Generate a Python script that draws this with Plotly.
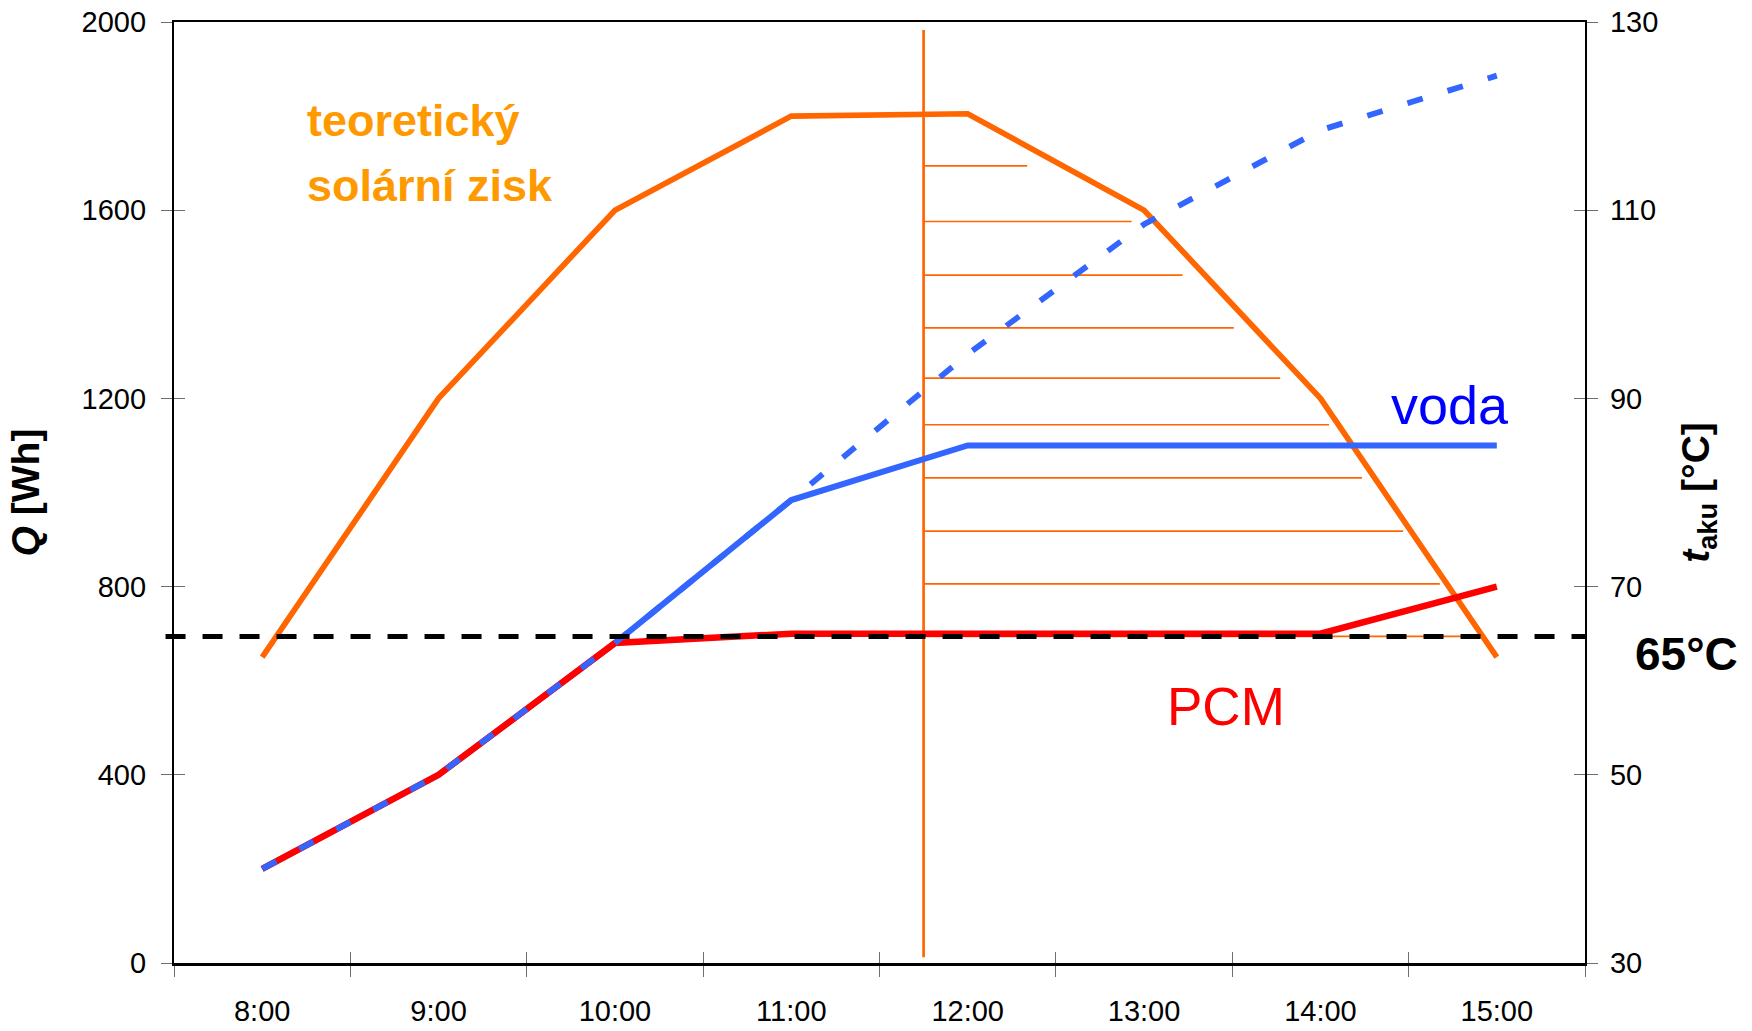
import plotly.graph_objects as go

# ---------------- data ----------------
hours = ["8:00", "9:00", "10:00", "11:00", "12:00", "13:00", "14:00", "15:00"]
solar_gain_Wh = [650, 1200, 1600, 1800, 1805, 1600, 1200, 650]        # teoretický solární zisk (left axis)
voda_t = [40, 50, 64, 79.2, 85, 85, 85, 85]                          # voda, measured (right axis)
voda_t_unlimited = [40, 50, 64, 79.2, 94.7, 108.5, 118.5, 124.3]      # voda, dashed continuation
pcm_t = [40, 50, 64, 65, 65, 65, 65, 70]                              # PCM (right axis)
threshold_t = 64.7                                                    # 65°C reference line
cut_time = 3.75                                                       # vertical orange line (category index)
cut_Q = [12, 1983]
hatch_Q = [1694, 1576, 1462, 1350, 1243, 1144, 1031, 918, 806, 694]
hatch_end = [4.337, 4.929, 5.218, 5.509, 5.772, 6.049, 6.236, 6.469, 6.677, 6.881]

left_ticks = [0, 400, 800, 1200, 1600, 2000]
right_ticks = [30, 50, 70, 90, 110, 130]

# ---------------- style ----------------
FONT = "Liberation Sans, Arial, sans-serif"
ORANGE = "#FF6600"
ORANGE_TXT = "#FF9900"
BLUE = "#3366FF"
RED = "#FF0000"
TICK = "#6e6e6e"

L, R, T, B = 174, 167, 22, 68
W, H = 1752, 1031
PW, PH = W - L - R, H - T - B


def px_x(p):
    return (p - L) / PW


def px_y(p):
    return (H - B - p) / PH


fig = go.Figure()

fig.add_trace(go.Scatter(x=hours, y=voda_t, yaxis="y2", mode="lines",
                         line=dict(color=BLUE, width=6), name="voda"))
fig.add_trace(go.Scatter(x=hours, y=pcm_t, yaxis="y2", mode="lines",
                         line=dict(color=RED, width=6.5), name="PCM"))
fig.add_trace(go.Scatter(x=hours, y=solar_gain_Wh, yaxis="y", mode="lines",
                         line=dict(color=ORANGE, width=5.7), name="teoretický solární zisk"))
fig.add_trace(go.Scatter(x=hours, y=voda_t_unlimited, yaxis="y2", mode="lines",
                         line=dict(color=BLUE, width=5.8, dash="16px,26px"), name="voda (bez omezení)"))

# dummy traces to activate overlay axes used for crossing ticks / frame
fig.add_trace(go.Scatter(x=hours, y=[None] * len(hours), xaxis="x2", yaxis="y",
                         showlegend=False, hoverinfo="skip"))
fig.add_trace(go.Scatter(x=hours, y=[None] * len(hours), xaxis="x3", yaxis="y",
                         showlegend=False, hoverinfo="skip"))
fig.add_trace(go.Scatter(x=hours, y=[None] * len(hours), xaxis="x", yaxis="y3",
                         showlegend=False, hoverinfo="skip"))
fig.add_trace(go.Scatter(x=hours, y=[None] * len(hours), xaxis="x", yaxis="y4",
                         showlegend=False, hoverinfo="skip"))

shapes = []
# vertical orange line
shapes.append(dict(type="line", xref="x", yref="y", x0=cut_time, x1=cut_time,
                   y0=cut_Q[0], y1=cut_Q[1], line=dict(color=ORANGE, width=2.7), layer="below"))
# hatch lines
for q, xe in zip(hatch_Q, hatch_end):
    shapes.append(dict(type="line", xref="x", yref="y", x0=cut_time, x1=xe, y0=q, y1=q,
                       line=dict(color=ORANGE, width=1.7), layer="below"))
# 65 °C dashed line
shapes.append(dict(type="line", xref="paper", yref="y2", x0=-0.006, x1=1,
                   y0=threshold_t, y1=threshold_t,
                   line=dict(color="black", width=5, dash="20px,17px"), layer="above"))

cat_axis = dict(type="category", categoryorder="array", categoryarray=hours,
                range=[-0.5, len(hours) - 0.5], tickson="boundaries", showgrid=False,
                zeroline=False, fixedrange=True, automargin=False)

fig.update_layout(
    width=W, height=H, autosize=False,
    margin=dict(l=L, r=R, t=T, b=B, pad=0, autoexpand=False),
    paper_bgcolor="white", plot_bgcolor="white",
    showlegend=False,
    xaxis=dict(**cat_axis, ticks="outside", ticklen=11, tickwidth=1.3, tickcolor=TICK,
               showline=True, linecolor="black", linewidth=3,
               tickfont=dict(family=FONT, size=29, color="black"),
               ticklabelstandoff=20),
    xaxis2=dict(**cat_axis, overlaying="x", side="top", anchor="y", ticks="",
                showticklabels=False, showline=True, linecolor="black", linewidth=1.8),
    xaxis3=dict(**cat_axis, overlaying="x", side="bottom", anchor="y", ticks="inside",
                ticklen=11, tickwidth=1.3, tickcolor=TICK, showticklabels=False, showline=False),
    yaxis=dict(range=[0, 2000], tickvals=left_ticks, ticks="outside", ticklen=11,
               tickwidth=1.3, tickcolor=TICK, showline=True, linecolor="black", linewidth=2.2,
               showgrid=False, zeroline=False, automargin=False,
               tickfont=dict(family=FONT, size=29, color="black"), ticklabelstandoff=9,
               title=dict(text="<b><i>Q</i> [Wh]</b>", font=dict(family=FONT, size=39, color="black"),
                          standoff=30)),
    yaxis2=dict(range=[30, 130], tickvals=right_ticks, overlaying="y", side="right", anchor="x",
                ticks="outside", ticklen=11, tickwidth=1.3, tickcolor=TICK, automargin=False,
                showline=True, linecolor="black", linewidth=2.2, showgrid=False, zeroline=False,
                tickfont=dict(family=FONT, size=29, color="black"), ticklabelstandoff=6,
                title=dict(text="<b><i>t</i><sub>aku</sub> [°C]</b>",
                           font=dict(family=FONT, size=39, color="black"), standoff=24)),
    yaxis3=dict(range=[0, 2000], tickvals=left_ticks, overlaying="y", side="left", anchor="x",
                ticks="inside", ticklen=11, tickwidth=1.3, tickcolor=TICK, showticklabels=False,
                showline=False, showgrid=False, zeroline=False, automargin=False),
    yaxis4=dict(range=[30, 130], tickvals=right_ticks, overlaying="y", side="right", anchor="x",
                ticks="inside", ticklen=11, tickwidth=1.3, tickcolor=TICK, showticklabels=False,
                showline=False, showgrid=False, zeroline=False, automargin=False),
    shapes=shapes,
)

annots = [
    dict(text="<b>teoretický</b>", x=px_x(305), y=px_y(121), xanchor="left", yanchor="middle",
         font=dict(family=FONT, size=45, color=ORANGE_TXT)),
    dict(text="<b>solární zisk</b>", x=px_x(305), y=px_y(185), xanchor="left", yanchor="middle",
         font=dict(family=FONT, size=45, color=ORANGE_TXT)),
    dict(text="voda", x=px_x(1450), y=px_y(405), xanchor="center", yanchor="middle",
         font=dict(family=FONT, size=54, color="#0000FF")),
    dict(text="PCM", x=px_x(1226), y=px_y(706), xanchor="center", yanchor="middle",
         font=dict(family=FONT, size=53, color=RED)),
    dict(text="<b>65°C</b>", x=px_x(1686), y=px_y(654), xanchor="center", yanchor="middle",
         font=dict(family=FONT, size=46, color="black")),
]
for a in annots:
    a.update(xref="paper", yref="paper", showarrow=False)
fig.update_layout(annotations=annots)

fig.write_html("out.html")
